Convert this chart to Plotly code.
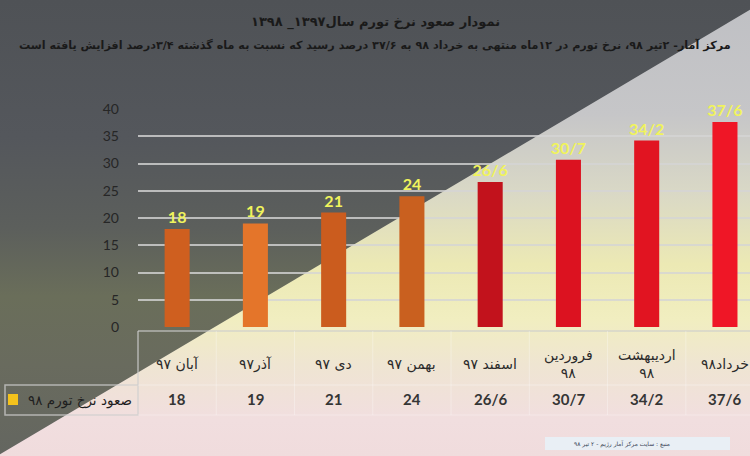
import plotly.graph_objects as go

# data
months = ["آبان ۹۷", "آذر۹۷", "دی ۹۷", "بهمن ۹۷", "اسفند ۹۷", "فروردین<br>۹۸", "اردیبهشت<br>۹۸", "خرداد۹۸"]
inflation = [18, 19, 21, 24, 26.6, 30.7, 34.2, 37.6]
value_labels = ["18", "19", "21", "24", "26/6", "30/7", "34/2", "37/6"]
y_ticks = [0, 5, 10, 15, 20, 25, 30, 35, 40]

title = "نمودار صعود نرخ تورم سال۱۳۹۷_ ۱۳۹۸"
subtitle = ("مرکز آمار- ۲تیر ۹۸، نرخ تورم در ۱۲ماه منتهی به خرداد ۹۸ به ۳۷/۶ درصد رسید"
            " که نسبت به ماه گذشته ۳/۴درصد افزایش یافته است")
legend_text = "صعود نرخ تورم ۹۸"
source_text = "منبع : سایت مرکز آمار رژیم - ۲ تیر ۹۸"

bar_colors = ["#cf5f1f", "#e4752a", "#cb5c1e", "#c9601f",
              "#c2121c", "#dc1220", "#e11421", "#ef1626"]

W, H = 750, 456
FA = "DejaVu Sans"
LAT = "Lato"

xs = list(range(len(months)))

fig = go.Figure()

# photographed slide background: dark upper-left, light lower-right
# (polygons overshoot the canvas a little so no edge is left uncovered)
dark_x = [-20, W + 20, W + 20, -20, -20]
dark_y = [-20, -20, -2, 466, -20]
light_x = [W + 20, W + 20, -20, -20, W + 20]
light_y = [-2, H + 20, H + 20, 466, -2]

fig.add_trace(go.Scatter(
    x=dark_x, y=dark_y, fill="toself", mode="none", hoverinfo="skip",
    fillgradient=dict(type="vertical", start=0, stop=H, colorscale=[
        [0, "#4f5256"], [0.3, "#54575c"], [0.5, "#5c5f5c"],
        [0.65, "#6a6e5a"], [0.8, "#696b5e"], [1, "#646660"]]),
    xaxis="x", yaxis="y"))
fig.add_trace(go.Scatter(
    x=light_x, y=light_y, fill="toself", mode="none", hoverinfo="skip",
    fillgradient=dict(type="vertical", start=0, stop=H, colorscale=[
        [0, "#bfc0c4"], [0.25, "#c6c6c8"], [0.42, "#d9d8c6"],
        [0.58, "#ece9b4"], [0.7, "#f1eec0"], [0.8, "#efe5d2"],
        [0.92, "#f1dedf"], [1, "#f0dcdd"]]),
    xaxis="x", yaxis="y"))

fig.add_trace(go.Bar(
    x=xs, y=inflation, width=0.32,
    marker=dict(color=bar_colors, line=dict(width=0)),
    text=value_labels, texttemplate="<b>%{text}</b>", textposition="outside",
    textfont=dict(family=LAT, size=16, color="#f0f35c"), constraintext="none",
    cliponaxis=False, xaxis="x2", yaxis="y2"))

fig.update_layout(
    width=W, height=H,
    margin=dict(l=0, r=0, t=0, b=0, pad=0),
    paper_bgcolor="#5a5d60",
    plot_bgcolor="rgba(0,0,0,0)",
    showlegend=False,
    xaxis=dict(domain=[0, 1], range=[0, W], visible=False, fixedrange=True, automargin=False),
    yaxis=dict(domain=[0, 1], range=[H, 0], visible=False, fixedrange=True, automargin=False),
    xaxis2=dict(domain=[138 / W, 1], range=[-0.5, 7.32], visible=False, anchor="y2",
                automargin=False),
    yaxis2=dict(domain=[1 - 327 / H, 1 - 109 / H], range=[0, 40], tickvals=y_ticks,
                gridcolor="rgba(212,212,212,0.8)", gridwidth=2, zeroline=False,
                showline=False, ticks="", ticklabelstandoff=18, anchor="x2", automargin=False,
                tickfont=dict(family=LAT, size=14, color="#262626")),
)


def note(text, x, y, size, color, family=FA, xref="paper", xanchor="center"):
    return dict(text=text, x=x, y=1 - y / H, xref=xref, yref="paper", showarrow=False,
                xanchor=xanchor, yanchor="middle", font=dict(family=family, size=size, color=color))


ann = [
    note("<b>" + title + "</b>", 0.5, 22, 13, "#1a1a1a"),
    note("<b>" + subtitle + "</b>", 0.5, 45, 11.2, "#1a1a1a"),
    note(legend_text, 134 / W, 400, 13.5, "#1e1e1e", xanchor="right"),
    note(source_text, 622 / W, 444, 6, "#3a4658"),
]
for i, m in enumerate(months):
    ann.append(note(m, i, 364, 14, "#2b2b2b", xref="x2"))
    ann.append(note("<b>" + value_labels[i] + "</b>", i, 399, 15, "#353535", family=LAT, xref="x2"))
fig.update_layout(annotations=ann)

line_col = "rgba(205,205,205,0.75)"
shapes = [
    dict(type="rect", x0=5 / W, x1=138 / W, y0=1 - 385 / H, y1=1 - 415 / H,
         xref="paper", yref="paper", line=dict(color=line_col, width=1.5)),
    dict(type="line", x0=138 / W, x1=1, y0=1 - 331 / H, y1=1 - 331 / H,
         xref="paper", yref="paper", line=dict(color=line_col, width=1.5)),
    dict(type="line", x0=138 / W, x1=138 / W, y0=1 - 331 / H, y1=1 - 385 / H,
         xref="paper", yref="paper", line=dict(color=line_col, width=1.5)),
    dict(type="line", x0=138 / W, x1=1, y0=1 - 385 / H, y1=1 - 385 / H,
         xref="paper", yref="paper", line=dict(color="rgba(255,255,255,0.35)", width=1)),
    dict(type="line", x0=138 / W, x1=1, y0=1 - 415 / H, y1=1 - 415 / H,
         xref="paper", yref="paper", line=dict(color="rgba(255,255,255,0.3)", width=1)),
    dict(type="rect", x0=8 / W, x1=18 / W, y0=1 - 394 / H, y1=1 - 405 / H,
         xref="paper", yref="paper", fillcolor="#f4c21c", line=dict(width=0)),
    dict(type="rect", x0=545 / W, x1=730 / W, y0=1 - 437 / H, y1=1 - 450 / H,
         xref="paper", yref="paper", fillcolor="#e9eff5", line=dict(width=0)),
]
for i in xs[:-1]:
    shapes.append(dict(type="line", x0=i + 0.5, x1=i + 0.5, y0=1 - 331 / H, y1=1 - 415 / H,
                       xref="x2", yref="paper", line=dict(color="rgba(255,255,255,0.3)", width=1)))
fig.update_layout(shapes=shapes)

# drop the page's default body margin so the figure fills the window
page_fix = ("document.documentElement.style.margin='0';"
            "document.body.style.margin='0';document.body.style.padding='0';"
            "document.body.style.overflow='hidden';")
fig.write_html("out.html", config={"displayModeBar": False}, post_script=page_fix)
